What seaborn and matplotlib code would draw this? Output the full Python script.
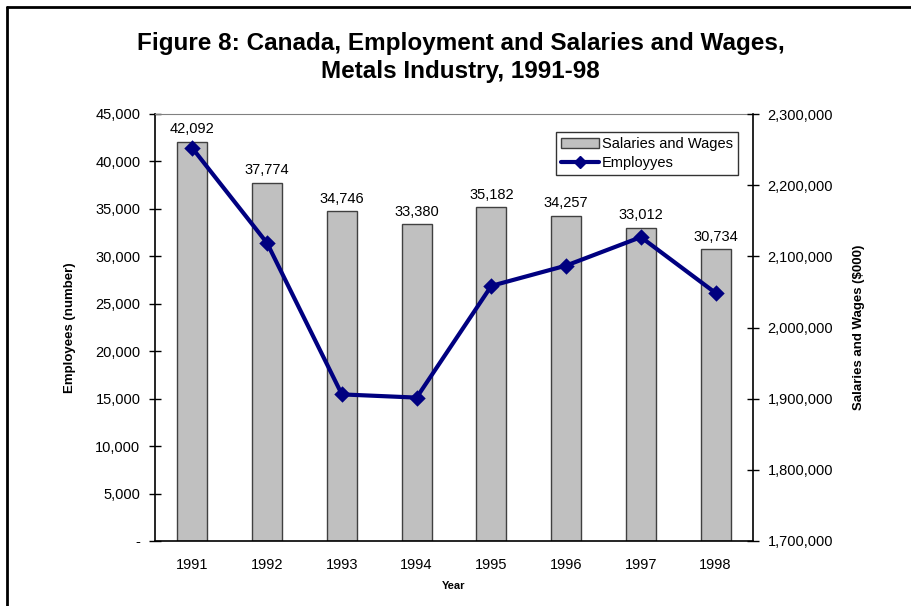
import matplotlib
matplotlib.use("Agg")
import matplotlib.pyplot as plt
import seaborn as sns
import pandas as pd
from matplotlib.ticker import FuncFormatter, MultipleLocator, FixedLocator
from matplotlib.lines import Line2D
from matplotlib.patches import Patch

years = ['1991', '1992', '1993', '1994', '1995', '1996', '1997', '1998']
salaries_bars = [42092, 37774, 34746, 33380, 35182, 34257, 33012, 30734]
employees_line = [2252000, 2118500, 1906000, 1901500, 2058500, 2087000, 2127000, 2048500]

df = pd.DataFrame({'year': years, 'bars': salaries_bars, 'line': employees_line})

sns.set_style('white')
plt.rcParams['font.family'] = ['Liberation Sans', 'DejaVu Sans']
plt.rcParams['text.color'] = 'black'
plt.rcParams['axes.labelcolor'] = 'black'
plt.rcParams['xtick.color'] = 'black'
plt.rcParams['ytick.color'] = 'black'

fig = plt.figure(figsize=(9.12, 6.06), dpi=100)
ax = fig.add_axes([155/912, 1-541/606, (753-155)/912, (541-114)/606])

sns.barplot(data=df, x='year', y='bars', ax=ax, color='#C0C0C0', width=0.4,
            edgecolor='#404040', linewidth=1, saturation=1)
ax.bar_label(ax.containers[0], labels=[f'{v:,}' for v in salaries_bars],
             padding=4, fontsize=10.5)

ax.set_ylim(0, 45000)
ax.set_xlim(-0.5, len(years) - 0.5)
ax.yaxis.set_major_locator(MultipleLocator(5000))
ax.yaxis.set_major_formatter(FuncFormatter(lambda v, p: '-' if v == 0 else f'{int(v):,}'))
ax.xaxis.set_minor_locator(FixedLocator([i - 0.5 for i in range(len(years) + 1)]))
ax.tick_params(axis='x', which='major', length=0, pad=12, labelsize=10.5)
ax.tick_params(axis='x', which='minor', direction='inout', length=9, width=1, color='black')
ax.tick_params(axis='y', direction='inout', length=9, width=1, color='black', labelsize=10.5, pad=6)
ax.set_xlabel('Year', fontsize=8, fontweight='bold', labelpad=7)
ax.set_ylabel('Employees (number)', fontsize=9.5, fontweight='bold', labelpad=14)

for s in ['left', 'bottom']:
    ax.spines[s].set_color('black')
    ax.spines[s].set_linewidth(1.2)
ax.spines['top'].set_color('#808080')
ax.spines['right'].set_visible(False)

ax2 = ax.twinx()
sns.pointplot(data=df, x='year', y='line', ax=ax2, color='#000080', markers='D',
              linestyles='-', markersize=6, linewidth=3)
ax2.set_xlim(-0.5, len(years) - 0.5)
ax2.set_ylim(1700000, 2300000)
ax2.yaxis.set_major_locator(MultipleLocator(100000))
ax2.yaxis.set_major_formatter(FuncFormatter(lambda v, p: f'{int(v):,}'))
ax2.tick_params(axis='y', direction='inout', length=9, width=1, color='black', labelsize=10.5, pad=6)
ax2.set_ylabel('Salaries and Wages ($000)', fontsize=9.5, fontweight='bold', labelpad=14)
for s in ['left', 'top', 'bottom']:
    ax2.spines[s].set_visible(False)
ax2.spines['right'].set_color('black')
ax2.spines['right'].set_linewidth(1.2)

handles = [Patch(facecolor='#C0C0C0', edgecolor='#404040', label='Salaries and Wages'),
           Line2D([], [], color='#000080', marker='D', markersize=6, linewidth=3, label='Employyes')]
leg = ax2.legend(handles=handles, loc='upper right', bbox_to_anchor=(0.975, 0.958),
                 fontsize=10.5, frameon=True, fancybox=False, handlelength=2.6,
                 borderpad=0.35, labelspacing=0.35, handletextpad=0.2, borderaxespad=0)
leg.get_frame().set_edgecolor('black')
leg.get_frame().set_linewidth(1)

fig.suptitle('Figure 8: Canada, Employment and Salaries and Wages,\nMetals Industry, 1991-98',
             x=0.505, y=0.948, fontsize=17.5, fontweight='bold', linespacing=1.3)

# chart frame like the Excel border
fig.add_artist(Line2D([7/912, 1], [1-7/606, 1-7/606], color='black', linewidth=2))
fig.add_artist(Line2D([7/912, 7/912], [0, 1-7/606], color='black', linewidth=2))

fig.savefig('out.png', dpi=100)
